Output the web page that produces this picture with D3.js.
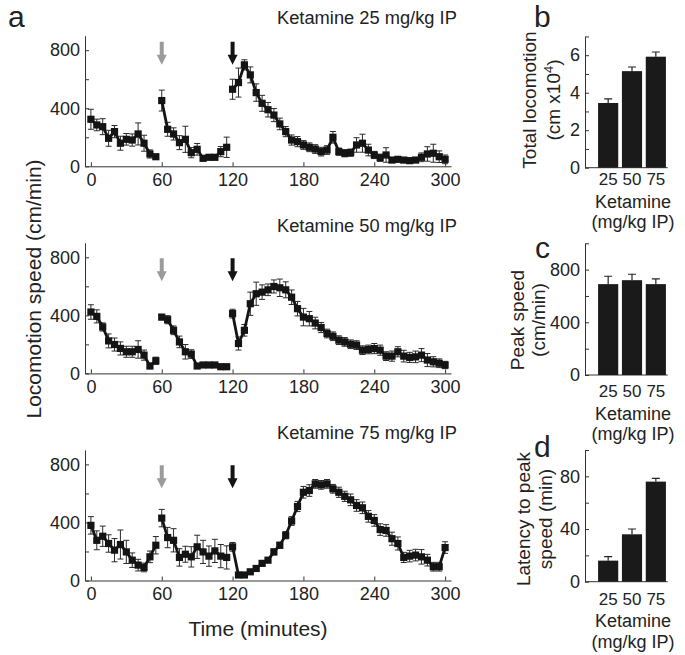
<!DOCTYPE html>
<html><head><meta charset="utf-8">
<script src="https://cdn.jsdelivr.net/npm/d3@7/dist/d3.min.js"></script>
<style>
body{margin:0;background:#fff;}
svg{display:block;font-family:"Liberation Sans",Arial,Helvetica,sans-serif;}
</style></head>
<body><svg id="chart" width="685" height="655"></svg>
<script>
// ---------- data ----------
const timeSeg1 = [0,5,10,15,20,25,30,35,40,45,50,55];
const timeSeg2 = [60,65,70,75,80,85,90,95,100,105,110,115];
const timeSeg3 = [120,125,130,135,140,145,150,155,160,165,170,175,180,185,190,195,200,205,210,215,220,225,230,235,240,245,250,255,260,265,270,275,280,285,290,295,300];

const panelTitles = ["Ketamine 25 mg/kg IP","Ketamine 50 mg/kg IP","Ketamine 75 mg/kg IP"];

const k25Seg1 = [324,285,273,193,239,159,186,181,223,159,85,66];
const k25Err1 = [69,40,55,55,42,48,40,42,76,55,28,14];
const k25Seg2 = [453,255,223,163,186,94,117,55,62,62,101,131];
const k25Err2 = [72,48,42,48,90,35,40,14,14,14,35,70];
const k25Seg3 = [531,577,699,630,508,434,390,353,292,239,181,170,147,131,119,101,112,200,101,90,94,147,159,112,78,59,78,43,48,43,39,43,62,85,90,66,48];
const k25Err3 = [69,100,35,55,60,55,50,45,40,35,35,35,30,30,30,30,30,40,25,25,25,50,62,40,25,25,50,15,15,15,15,15,30,50,62,40,30];

const k50Seg1 = [423,393,320,224,199,172,149,149,165,126,51,87];
const k50Err1 = [50,45,28,48,45,45,38,38,60,35,18,25];
const k50Seg2 = [388,370,297,217,149,133,51,58,58,58,46,46];
const k50Err2 = [18,28,30,40,50,30,14,12,12,12,12,12];
const k50Seg3 = [412,206,297,480,549,560,576,599,590,576,525,446,388,377,347,316,275,256,229,217,201,195,160,165,171,160,119,119,149,119,110,114,126,92,80,70,58];
const k50Err3 = [30,45,40,80,80,50,40,45,60,55,50,50,60,50,40,35,30,30,30,30,30,30,30,30,35,35,30,35,35,40,35,40,45,45,35,30,25];

const k75Seg1 = [380,277,305,255,209,248,197,140,106,90,163,243];
const k75Err1 = [60,65,70,60,80,100,80,50,40,30,40,60];
const k75Seg2 = [430,296,277,159,181,163,232,197,168,204,168,159];
const k75Err2 = [60,70,80,60,55,70,80,80,70,80,80,80];
const k75Seg3 = [232,38,38,60,83,118,140,197,243,312,410,510,608,620,666,659,666,632,608,580,556,517,501,442,414,351,345,288,255,159,168,175,163,140,95,95,227];
const k75Err3 = [30,10,10,10,10,10,15,20,20,25,30,35,40,40,30,30,30,30,35,35,40,40,40,40,40,40,40,45,45,35,40,40,50,40,30,30,40];

const lineYTicks = [0,200,400,600,800];
const lineYLabels = [0,400,800];
const lineXTicks = [0,60,120,180,240,300];

const arrowTimes = [60,120];
const arrowColors = ["#9b9b9b","#141414"];
const arrowTipValues = [700,635,635];

const doses = ["25","50","75"];
const totalLoco = [3.45,5.15,5.92];
const totalLocoErr = [0.22,0.22,0.25];
const peakSpeed = [690,720,690];
const peakSpeedErr = [60,45,40];
const latency = [16,36,76];
const latencyErr = [3,4,2.5];

// ---------- layout ----------
const svg = d3.select("#chart");
const ink = "#141414";
const axisColor = "#333";
const x = d3.scaleLinear().domain([-5,305]).range([85,451]);
const zeroY = [166.3,373.4,580.5];
const titleY = [24,232,439];

const panels = [
  [[timeSeg1,k25Seg1,k25Err1],[timeSeg2,k25Seg2,k25Err2],[timeSeg3,k25Seg3,k25Err3]],
  [[timeSeg1,k50Seg1,k50Err1],[timeSeg2,k50Seg2,k50Err2],[timeSeg3,k50Seg3,k50Err3]],
  [[timeSeg1,k75Seg1,k75Err1],[timeSeg2,k75Seg2,k75Err2],[timeSeg3,k75Seg3,k75Err3]]
];

function styleAxis(sel){
  sel.select(".domain").attr("stroke",axisColor).attr("stroke-width",1);
  sel.selectAll(".tick line").attr("stroke",axisColor).attr("stroke-width",1);
  sel.selectAll(".tick text").attr("fill","#222").attr("font-size",18).attr("font-family","Liberation Sans, Arial, sans-serif");
}

panels.forEach((segs,pi)=>{
  const z = zeroY[pi];
  const y = d3.scaleLinear().domain([0,900]).range([z, z-130.6]);
  const g = svg.append("g");

  g.append("g").attr("transform",`translate(85,0)`)
    .call(d3.axisLeft(y).tickValues(lineYTicks).tickSize(-4).tickSizeOuter(0).tickPadding(5)
      .tickFormat(d=>lineYLabels.includes(d)?d:""))
    .call(styleAxis);
  g.append("g").attr("transform",`translate(0,${z})`)
    .call(d3.axisBottom(x).tickValues(lineXTicks).tickSize(-4).tickSizeOuter(0).tickPadding(7))
    .call(styleAxis);

  g.append("text").attr("x",277).attr("y",titleY[pi]).attr("font-size",18.3).attr("fill","#222").text(panelTitles[pi]);

  // arrows
  arrowTimes.forEach((t,ai)=>{
    const cx = x(t), tip = y(arrowTipValues[pi]);
    g.append("path")
      .attr("d",`M${cx-2},${tip-23}H${cx+2}V${tip-10}H${cx+5}L${cx},${tip}L${cx-5},${tip-10}H${cx-2}Z`)
      .attr("fill",arrowColors[ai]);
  });

  segs.forEach(([ts,vs,es])=>{
    const pts = ts.map((t,i)=>({t,v:vs[i],e:es[i]}));
    g.append("g").selectAll("path").data(pts).enter().append("path")
      .attr("d",d=>{const cx=x(d.t),a=y(d.v+d.e),b=y(Math.max(0,d.v-d.e));
        return `M${cx},${a}V${b}M${cx-3},${a}h6M${cx-3},${b}h6`;})
      .attr("stroke","#2a2a2a").attr("stroke-width",1).attr("fill","none");
    g.append("path").datum(pts)
      .attr("d",d3.line().x(d=>x(d.t)).y(d=>y(d.v)))
      .attr("fill","none").attr("stroke",ink).attr("stroke-width",2.8);
    g.append("g").selectAll("rect").data(pts).enter().append("rect")
      .attr("x",d=>x(d.t)-3.6).attr("y",d=>y(d.v)-3.6).attr("width",7.2).attr("height",7.2)
      .attr("fill",ink);
  });
});

svg.append("text").attr("x",258).attr("y",636).attr("text-anchor","middle").attr("font-size",21).attr("fill","#222").text("Time (minutes)");
svg.append("text").attr("transform","translate(41,289) rotate(-90)").attr("text-anchor","middle").attr("font-size",21).attr("fill","#222").text("Locomotion speed (cm/min)");

// panel letters
[["a",8,27],["b",534,27],["c",535,258],["d",534,457]].forEach(([s,lx,ly])=>{
  svg.append("text").attr("x",lx).attr("y",ly).attr("font-size",30).attr("fill","#222").text(s);
});

// ---------- bar panels ----------
const xb = d3.scaleBand().domain(doses).range([596.3,667.7]).paddingInner(0.155).paddingOuter(0.075);
const barPanels = [
  {vals:totalLoco, errs:totalLocoErr, dom:[0,7], ticks:[0,1,2,3,4,5,6,7], labels:[0,2,4,6], base:167.7, top:36.45,
   tickBase:185, lab1:207.5, lab2:228, ylab:["Total locomotion","(cm x10","4",")"], ycy:100, yx:[536,560]},
  {vals:peakSpeed, errs:peakSpeedErr, dom:[0,1000], ticks:[0,200,400,600,800,1000], labels:[0,400,800], base:375, top:243.3,
   tickBase:397, lab1:419.5, lab2:440, ylab:["Peak speed","(cm/min)"], ycy:320, yx:[524,545]},
  {vals:latency, errs:latencyErr, dom:[0,100], ticks:[0,20,40,60,80,100], labels:[0,40,80], base:581.7, top:450,
   tickBase:604.5, lab1:627, lab2:647.5, ylab:["Latency to peak","speed (min)"], ycy:519, yx:[530,552]}
];

barPanels.forEach(p=>{
  const y = d3.scaleLinear().domain(p.dom).range([p.base,p.top]);
  const g = svg.append("g");
  g.append("g").attr("transform","translate(585,0)")
    .call(d3.axisLeft(y).tickValues(p.ticks).tickSize(-4).tickSizeOuter(0).tickPadding(5)
      .tickFormat(d=>p.labels.includes(d)?d:""))
    .call(styleAxis);
  g.append("line").attr("x1",585).attr("x2",xb.range()[1]).attr("y1",p.base).attr("y2",p.base)
    .attr("stroke",axisColor).attr("stroke-width",1);
  const data = doses.map((d,i)=>({d,v:p.vals[i],e:p.errs[i]}));
  g.selectAll("path.err").data(data).enter().append("path")
    .attr("d",d=>{const cx=xb(d.d)+xb.bandwidth()/2;return `M${cx},${y(d.v)}V${y(d.v+d.e)}M${cx-4},${y(d.v+d.e)}h8`;})
    .attr("stroke","#222").attr("stroke-width",1.2).attr("fill","none");
  g.selectAll("rect").data(data).enter().append("rect")
    .attr("x",d=>xb(d.d)).attr("width",xb.bandwidth())
    .attr("y",d=>y(d.v)).attr("height",d=>p.base-y(d.v)).attr("fill","#1a1a1a");
  const tl = g.append("text").attr("y",p.tickBase).attr("text-anchor","middle").attr("font-size",17).attr("fill","#222");
  doses.forEach(d=>{
    tl.append("tspan").attr("x",xb(d)+xb.bandwidth()/2).text(d);
  });
  const xl = g.append("text").attr("text-anchor","middle").attr("font-size",18).attr("fill","#222");
  xl.append("tspan").attr("x",633).attr("y",p.lab1).text("Ketamine");
  xl.append("tspan").attr("x",633).attr("y",p.lab2).text("(mg/kg IP)");
  g.append("text").attr("transform",`translate(${p.yx[0]},${p.ycy}) rotate(-90)`).attr("text-anchor","middle")
    .attr("font-size",19).attr("fill","#222").text(p.ylab[0]);
  const t2 = g.append("text").attr("transform",`translate(${p.yx[1]},${p.ycy}) rotate(-90)`).attr("text-anchor","middle")
    .attr("font-size",19).attr("fill","#222");
  t2.append("tspan").text(p.ylab[1]);
  if(p.ylab.length>2){
    t2.append("tspan").attr("font-size",13).attr("dy",-7).text(p.ylab[2]);
    t2.append("tspan").attr("dy",7).text(p.ylab[3]);
  }
});
</script>
</body></html>
